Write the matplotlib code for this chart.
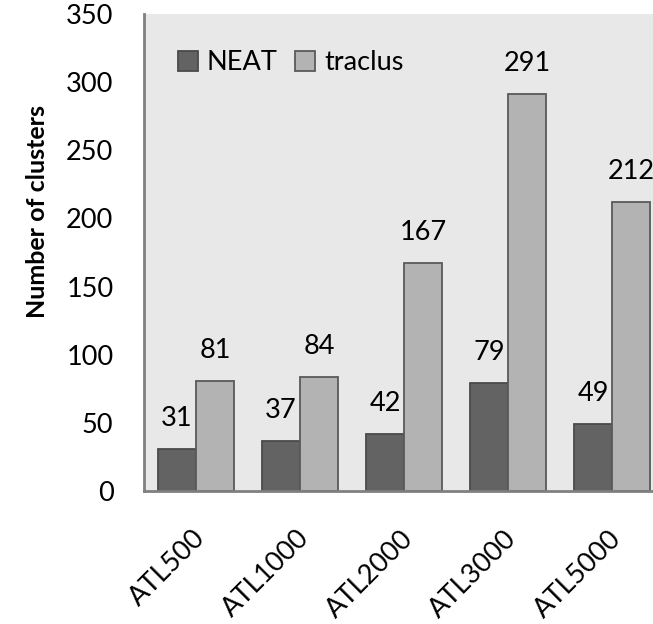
import numpy as np
import matplotlib
matplotlib.use("Agg")
import matplotlib.pyplot as plt
import matplotlib.transforms as mtransforms

plt.rcParams['font.family'] = ['Lato', 'DejaVu Sans']

datasets = ['ATL500', 'ATL1000', 'ATL2000', 'ATL3000', 'ATL5000']
neat = [31, 37, 42, 79, 49]
traclus = [81, 84, 167, 291, 212]
yticks = [0, 50, 100, 150, 200, 250, 300, 350]

fs = 19.5
fig = plt.figure(figsize=(6.53, 6.24), dpi=100)
# axes runs a little past the right edge of the figure on purpose
ax = fig.add_axes([144 / 653, 133 / 624, 520 / 653, 477 / 624])
ax.set_facecolor('#e8e8e8')

x = np.arange(len(datasets))
w = 0.365
b1 = ax.bar(x - w / 2, neat, w, color='#636363', edgecolor='#4a4a4a',
            linewidth=1.3, label='NEAT')
b2 = ax.bar(x + w / 2, traclus, w, color='#b3b3b3', edgecolor='#5a5a5a',
            linewidth=1.3, label='traclus')

for bars, vals in ((b1, neat), (b2, traclus)):
    for r, v in zip(bars, vals):
        ax.annotate(str(v), (r.get_x() + r.get_width() / 2, v),
                    xytext=(0, 16.5), textcoords='offset points',
                    ha='center', va='baseline', fontsize=fs)

ax.set_xlim(-0.5, 4.5)
ax.set_ylim(0, 350)
ax.set_yticks(yticks)
ax.tick_params(axis='y', length=0, pad=22, labelsize=fs)
ax.set_xticks(x)
ax.set_xticklabels(datasets, rotation=45, ha='right', va='top',
                   rotation_mode='anchor', fontsize=fs)
ax.tick_params(axis='x', length=0, pad=25)
shift = mtransforms.ScaledTranslation(-4 / 100, 0, fig.dpi_scale_trans)
for lbl in ax.get_xticklabels():
    lbl.set_transform(lbl.get_transform() + shift)

ax.set_ylabel('Number of clusters', fontsize=18, fontweight='bold')
ax.yaxis.set_label_coords(-0.182, 0.585)

for s in ('top', 'right'):
    ax.spines[s].set_visible(False)
for s in ('left', 'bottom'):
    ax.spines[s].set_color('#808080')
    ax.spines[s].set_linewidth(2)

ax.legend(loc='center left', bbox_to_anchor=(178 / 653, 1 - 63 / 624),
          bbox_transform=fig.transFigure, ncol=2, frameon=False,
          fontsize=fs, handlelength=0.74, handleheight=0.74, handletextpad=0.33,
          columnspacing=0.63, borderpad=0, borderaxespad=0)

fig.savefig('out.png', dpi=100)
